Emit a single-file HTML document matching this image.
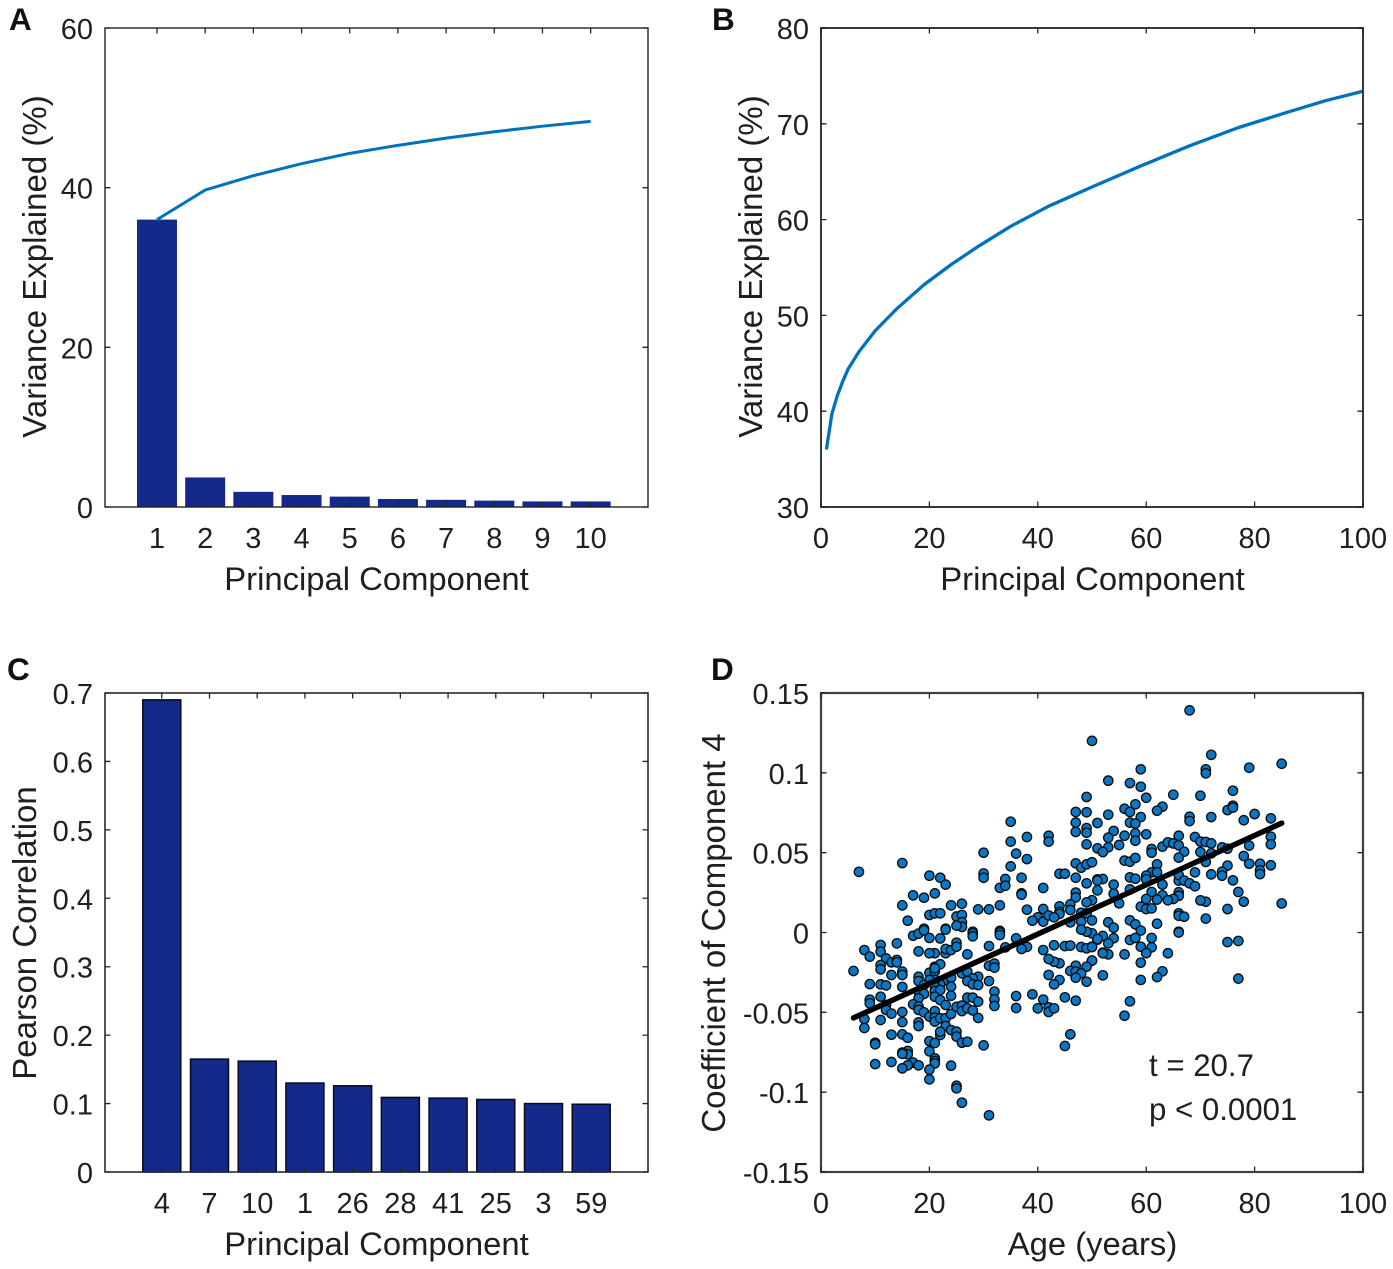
<!DOCTYPE html>
<html lang="en">
<head>
<meta charset="utf-8">
<title>PCA variance and age correlation figure</title>
<style>
html,body{margin:0;padding:0;background:#fff;width:1393px;height:1269px;overflow:hidden}
svg{display:block}
text{font-family:"Liberation Sans",Arial,sans-serif;fill:#1f1f1f}
</style>
</head>
<body>
<svg id="figure" width="1393" height="1269" viewBox="0 0 1393 1269" xmlns="http://www.w3.org/2000/svg">
<text x="9" y="30" font-size="31.5" font-weight="bold" style="fill:#111">A</text>
<text x="712" y="30" font-size="31.5" font-weight="bold" style="fill:#111">B</text>
<text x="7" y="680" font-size="31.5" font-weight="bold" style="fill:#111">C</text>
<text x="711" y="680" font-size="31.5" font-weight="bold" style="fill:#111">D</text>
<text x="376.5" y="590" font-size="32.8" text-anchor="middle">Principal Component</text>
<text x="1092.5" y="590" font-size="32.8" text-anchor="middle">Principal Component</text>
<text x="376.5" y="1255" font-size="32.8" text-anchor="middle">Principal Component</text>
<text x="1092.5" y="1255" font-size="32.8" text-anchor="middle">Age (years)</text>
<text transform="translate(46,266.5) rotate(-90)" font-size="33" text-anchor="middle">Variance Explained (%)</text>
<text transform="translate(762,266.5) rotate(-90)" font-size="33" text-anchor="middle">Variance Explained (%)</text>
<text transform="translate(36,933) rotate(-90)" font-size="33" text-anchor="middle">Pearson Correlation</text>
<text transform="translate(725,933) rotate(-90)" font-size="33" text-anchor="middle">Coefficient of Component 4</text>
<text x="1149" y="1076" font-size="31.2">t = 20.7</text>
<text x="1149" y="1120" font-size="31.2">p &lt; 0.0001</text>
</svg>
<script>
// Panel A data
var pcCategoriesA = ["1","2","3","4","5","6","7","8","9","10"];
var varianceBarsA = [36,3.7,1.9,1.5,1.3,1.0,0.9,0.8,0.7,0.7];
var cumulativeLineA = [36,39.7,41.5,43,44.3,45.3,46.2,47,47.7,48.3];
var yTicksA = [0,20,40,60];
// Panel B data
var pcB = [1,2,3,4,5,7,10,14,19,24,29,35,42,50,59,68,77,86,93,100];
var cumulativeB = [36,39.7,41.6,43.1,44.4,46.2,48.4,50.7,53.2,55.3,57.2,59.3,61.4,63.4,65.6,67.7,69.6,71.2,72.4,73.4];
var xTicksB = [0,20,40,60,80,100];
var yTicksB = [30,40,50,60,70,80];
// Panel C data
var pcCategoriesC = ["4","7","10","1","26","28","41","25","3","59"];
var correlationBarsC = [0.69,0.165,0.162,0.13,0.126,0.109,0.108,0.106,0.1,0.099];
var yTicksC = [0,0.1,0.2,0.3,0.4,0.5,0.6,0.7];
// Panel D data
var xTicksD = [0,20,40,60,80,100];
var yTicksD = [-0.15,-0.1,-0.05,0,0.05,0.1,0.15];
var fitAges = [6,85];
var fitCoefs = [-0.0535,0.0685];
var ages = [
7,15,20,22,23,17,19,21,15,16,
24,26,20,21,22,25,26,26,19,23,
26,25,29,31,33,30,35,35,38,36,
38,35,30,30,34,33,34,37,37,37,
38,41,42,42,44,45,47,47,48,49,
50,49,51,51,47,47,50,49,46,46,
44,44,44,41,40,39,41,42,43,46,
48,49,48,50,47,49,49,50,47,47,
49,49,49,51,51,33,28,
68,72,85,79,71,71,59,53,57,59,
60,65,70,76,76,75,76,63,62,58,
56,57,59,53,57,58,68,68,72,78,
80,83,83,83,79,78,79,81,81,81,
83,75,74,74,72,76,77,78,85,75,
71,70,71,54,53,56,58,58,60,55,
53,52,61,61,63,64,65,66,66,67,
66,69,70,71,72,70,72,74,75,71,
56,57,58,62,61,62,60,60,57,58,
52,51,54,57,54,55,63,66,66,67,
68,69,69,61,63,66,66,65,64,62,
60,59,60,61,66,66,67,57,58,59,
53,54,62,66,
66,75,77,77,57,58,61,54,52,51,
50,53,50,59,61,60,64,52,53,56,
50,59,63,62,59,52,57,56,
17,18,19,20,22,23,25,28,28,33,
33,31,36,38,37,34,41,43,45,46,
48,49,50,51,49,48,52,50,49,47,
46,47,48,47,49,44,43,42,42,44,
43,45,47,46,45,39,41,36,36,40,
42,42,43,32,32,32,31,31,32,32,
27,23,23,24,25,21,20,18,14,11,
11,8,9,12,13,14,14,11,11,6,
13,15,15,9,11,12,15,18,18,20,
21,21,22,21,26,27,29,28,27,28,
29,23,24,22,21,24,20,19,18,21,
21,22,19,18,21,22,24,27,28,29,
11,9,9,12,12,13,15,17,18,18,
19,20,21,21,21,22,23,23,23,24,
25,26,26,27,28,29,8,8,11,15,
18,18,13,15,16,10,10,22,22,24,
25,25,20,21,26,27,30,16,16,15,
15,20,21,21,21,24,17,18,16,15,
13,10,20,20,25,25,26,31
];
var coefs = [
0.038,0.0435,0.0356,0.0343,0.03,0.0233,0.0218,0.0245,0.017,0.0074,
0.017,0.018,0.011,0.012,0.012,0.01,0.011,0.0064,0.0024,0.0024,
0.0035,0.0043,0.0145,0.0145,0.017,0.05,0.0694,0.0569,0.0598,0.0494,
0.046,0.0414,0.037,0.0343,0.0335,0.028,0.0293,0.0343,0.0245,0.0237,
0.0143,0.0279,0.0606,0.0569,0.0368,0.0368,0.0343,0.0433,0.0406,0.0427,
0.044,0.0308,0.0333,0.0264,0.025,0.022,0.0202,0.0189,0.0176,0.0141,
0.0164,0.013,0.0116,0.0147,0.0095,0.0074,0.0068,0.0107,0.0095,0.0064,
0.0124,0.012,0.0068,0.0076,0.0755,0.0753,0.0849,0.12,0.0688,0.063,
0.0654,0.0625,0.0552,0.0686,0.0527,0.001,0.0005,
0.1391,0.1113,0.1057,0.1032,0.1022,0.0997,0.1022,0.0951,0.0936,0.0913,
0.0844,0.0863,0.0857,0.0888,0.0794,0.0767,0.0782,0.0788,0.0763,0.0803,
0.0775,0.0755,0.0723,0.0738,0.0688,0.0682,0.0725,0.0698,0.0723,0.0703,
0.0742,0.0715,0.06,0.0552,0.0544,0.0479,0.0431,0.0431,0.0389,0.0366,
0.0421,0.0419,0.0381,0.0356,0.0364,0.0327,0.0254,0.0193,0.0182,0.0147,
0.0193,0.0201,0.0087,0.0636,0.0594,0.0606,0.0621,0.0575,0.0615,0.0548,
0.0533,0.0504,0.0523,0.05,0.0538,0.0565,0.0558,0.0606,0.0546,0.0506,
0.0469,0.0598,0.0569,0.0567,0.0558,0.0504,0.0496,0.0533,0.0525,0.0442,
0.045,0.0443,0.0467,0.0427,0.0377,0.0377,0.0356,0.0333,0.0345,0.0337,
0.0335,0.0325,0.03,0.027,0.0243,0.0183,0.03,0.0325,0.036,0.0325,
0.0308,0.029,0.0377,0.0254,0.0233,0.0252,0.023,0.021,0.0202,0.0206,
0.021,0.0162,0.0147,0.0151,0.012,0.0105,0.0099,0.0076,0.0051,0.0012,
0.0064,0.003,0.0055,0.0005,
0,-0.006,-0.0053,-0.0289,-0.0047,-0.0034,-0.0034,-0.0036,-0.0022,-0.0045,
-0.0005,-0.0068,-0.0089,-0.0089,-0.0093,-0.013,-0.013,-0.0126,-0.0137,-0.0137,
-0.0176,-0.0189,-0.0243,-0.0279,-0.0297,-0.0268,-0.0431,-0.0521,
-0.002,-0.0007,0.0013,-0.0034,-0.0037,0.0018,-0.0064,-0.0005,-0.0024,0,
-0.0016,-0.0085,-0.0037,-0.009,-0.0103,-0.0093,-0.011,-0.008,-0.0085,-0.0082,
-0.0091,-0.0099,-0.0091,-0.0041,0.0005,0.0018,-0.013,-0.0176,-0.0214,-0.0208,
-0.0241,-0.0245,-0.0256,-0.0283,-0.0308,-0.0193,-0.0183,-0.0166,-0.0266,-0.0297,
-0.0325,-0.0406,-0.0427,-0.0638,-0.0711,-0.0387,-0.042,-0.0398,-0.0473,-0.0475,
-0.0469,-0.0498,-0.0475,-0.037,-0.0419,-0.046,-0.0304,-0.0208,-0.0195,-0.022,
-0.0137,-0.013,-0.0103,-0.011,-0.0089,-0.013,-0.013,-0.0118,-0.0068,-0.0078,
-0.012,-0.011,-0.0151,-0.0162,-0.0187,-0.0172,-0.0187,-0.0204,-0.0231,-0.0241,
-0.0266,-0.0245,-0.0266,-0.0323,-0.0325,-0.0331,-0.0341,-0.0277,-0.0304,-0.0252,
-0.0214,-0.0245,-0.0199,-0.0224,-0.0256,-0.0245,-0.0277,-0.0287,-0.0304,-0.0325,
-0.0329,-0.0297,-0.0283,-0.0325,-0.0297,-0.0339,-0.0297,-0.0329,-0.0371,-0.0339,
-0.0366,-0.036,-0.0385,-0.0412,-0.0402,-0.0423,-0.0396,-0.0408,-0.0408,-0.0433,
-0.0402,-0.0421,-0.0444,-0.0454,-0.0485,-0.0508,-0.0498,-0.045,-0.0464,-0.0485,
-0.05,-0.0527,-0.0492,-0.0533,-0.0558,-0.0537,-0.0454,-0.0537,-0.0586,-0.051,
-0.0466,-0.0458,-0.0492,-0.0475,-0.0488,-0.0535,-0.0542,-0.0598,-0.0548,-0.0561,
-0.0563,-0.0586,-0.064,-0.0638,-0.0659,-0.069,-0.07,-0.0642,-0.0621,-0.0611,
-0.0621,-0.0652,-0.068,-0.0692,-0.069,-0.0684,-0.0707,-0.0742,-0.0763,-0.0752,
-0.076,-0.0744,-0.0788,-0.0805,-0.082,-0.0834,-0.0815,-0.0832,-0.0832,-0.0851,
-0.0811,-0.0824,-0.0859,-0.092,-0.096,-0.0976,-0.1066,-0.1145
];

var NS = 'http://www.w3.org/2000/svg';
var svg = document.getElementById('figure');
var BAR = '#132a8a';
var LINE = '#0072bd';

function add(tag, attrs) {
  var el = document.createElementNS(NS, tag);
  for (var k in attrs) { el.setAttribute(k, attrs[k]); }
  svg.appendChild(el);
  return el;
}
function scale(d0, d1, r0, r1) {
  return function (v) { return r0 + (v - d0) / (d1 - d0) * (r1 - r0); };
}
function drawAxes(box, xs, xPos, xLabels, ys, yPos, yLabels, prefix) {
  var frame = add('rect', {x: box.l, y: box.t, width: box.r - box.l, height: box.b - box.t, fill: 'none', stroke: box.color, 'stroke-width': box.sw});
  
  
  xs.forEach(function (v, i) {
    var x = xPos(v);
    var tick = add('path', {d: 'M' + x + ' ' + box.b + 'v-5.5M' + x + ' ' + box.t + 'v5.5', stroke: '#262626', 'stroke-width': 1.3, fill: 'none'});
    
    
    var label = add('text', {x: x, y: box.b + 41, 'font-size': 29, 'text-anchor': 'middle'});
    label.textContent = xLabels[i];
    
    
  });
  ys.forEach(function (v, i) {
    var y = yPos(v);
    var tick = add('path', {d: 'M' + box.l + ' ' + y + 'h5.5M' + box.r + ' ' + y + 'h-5.5', stroke: '#262626', 'stroke-width': 1.3, fill: 'none'});
    
    
    var label = add('text', {x: box.l - 12, y: y + 11, 'font-size': 29, 'text-anchor': 'end'});
    label.textContent = yLabels[i];
    
    
  });
}
function polyline(xv, yv, xPos, yPos) {
  return xv.map(function (v, i) { return xPos(v).toFixed(2) + ',' + yPos(yv[i]).toFixed(2); }).join(' ');
}
function range(n) { var a = []; for (var i = 1; i <= n; i++) { a.push(i); } return a; }

// Panel A
var boxA = {l: 105, r: 648, t: 28, b: 507, sw: 1.4, color: '#222'};
var xA = scale(-0.079, 11.19, boxA.l, boxA.r);
var yA = scale(0, 60, boxA.b, boxA.t);
varianceBarsA.forEach(function (v, i) {
  var x = xA(i + 1);
  var bar = add('rect', {x: x - 20, y: yA(v), width: 40, height: boxA.b - yA(v), fill: BAR});
  
  
});
var lineA = add('polyline', {points: polyline(range(cumulativeLineA.length), cumulativeLineA, xA, yA), fill: 'none', stroke: LINE, 'stroke-width': 3});


drawAxes(boxA, range(pcCategoriesA.length), xA, pcCategoriesA, yTicksA, yA, yTicksA.map(String), 'panel-a');

// Panel B
var boxB = {l: 821, r: 1363, t: 28, b: 507, sw: 2, color: '#383838'};
var xB = scale(0, 100, boxB.l, boxB.r);
var yB = scale(30, 80, boxB.b, boxB.t);
var lineB = add('polyline', {points: polyline(pcB, cumulativeB, xB, yB), fill: 'none', stroke: LINE, 'stroke-width': 3.3, 'stroke-linejoin': 'round'});


drawAxes(boxB, xTicksB, xB, xTicksB.map(String), yTicksB, yB, yTicksB.map(String), 'panel-b');

// Panel C
var boxC = {l: 105, r: 648, t: 693, b: 1172, sw: 1.6, color: '#2a2a2a'};
var xC = scale(-0.19, 11.19, boxC.l, boxC.r);
var yC = scale(0, 0.7, boxC.b, boxC.t);
correlationBarsC.forEach(function (v, i) {
  var x = xC(i + 1);
  var bar = add('rect', {x: x - 19, y: yC(v), width: 38, height: boxC.b - yC(v), fill: BAR, stroke: '#0a0a1e', 'stroke-width': 1.5});
  
  
});
drawAxes(boxC, range(pcCategoriesC.length), xC, pcCategoriesC, yTicksC, yC, yTicksC.map(String), 'panel-c');

// Panel D
var boxD = {l: 821, r: 1363, t: 693, b: 1172, sw: 2.2, color: '#404040'};
var xD = scale(0, 100, boxD.l, boxD.r);
var yD = scale(-0.15, 0.15, boxD.b, boxD.t);
ages.forEach(function (a, i) {
  var pt = add('circle', {cx: xD(a).toFixed(2), cy: yD(coefs[i]).toFixed(2), r: 4.7, fill: '#0b77c4', stroke: '#0a0a0a', 'stroke-width': 1.3});
  
  
});
var fit = add('line', {x1: xD(fitAges[0]), y1: yD(fitCoefs[0]), x2: xD(fitAges[1]), y2: yD(fitCoefs[1]), stroke: '#000', 'stroke-width': 5.5, 'stroke-linecap': 'round'});


drawAxes(boxD, xTicksD, xD, xTicksD.map(String), yTicksD, yD, yTicksD.map(String), 'panel-d');
</script>
</body>
</html>
